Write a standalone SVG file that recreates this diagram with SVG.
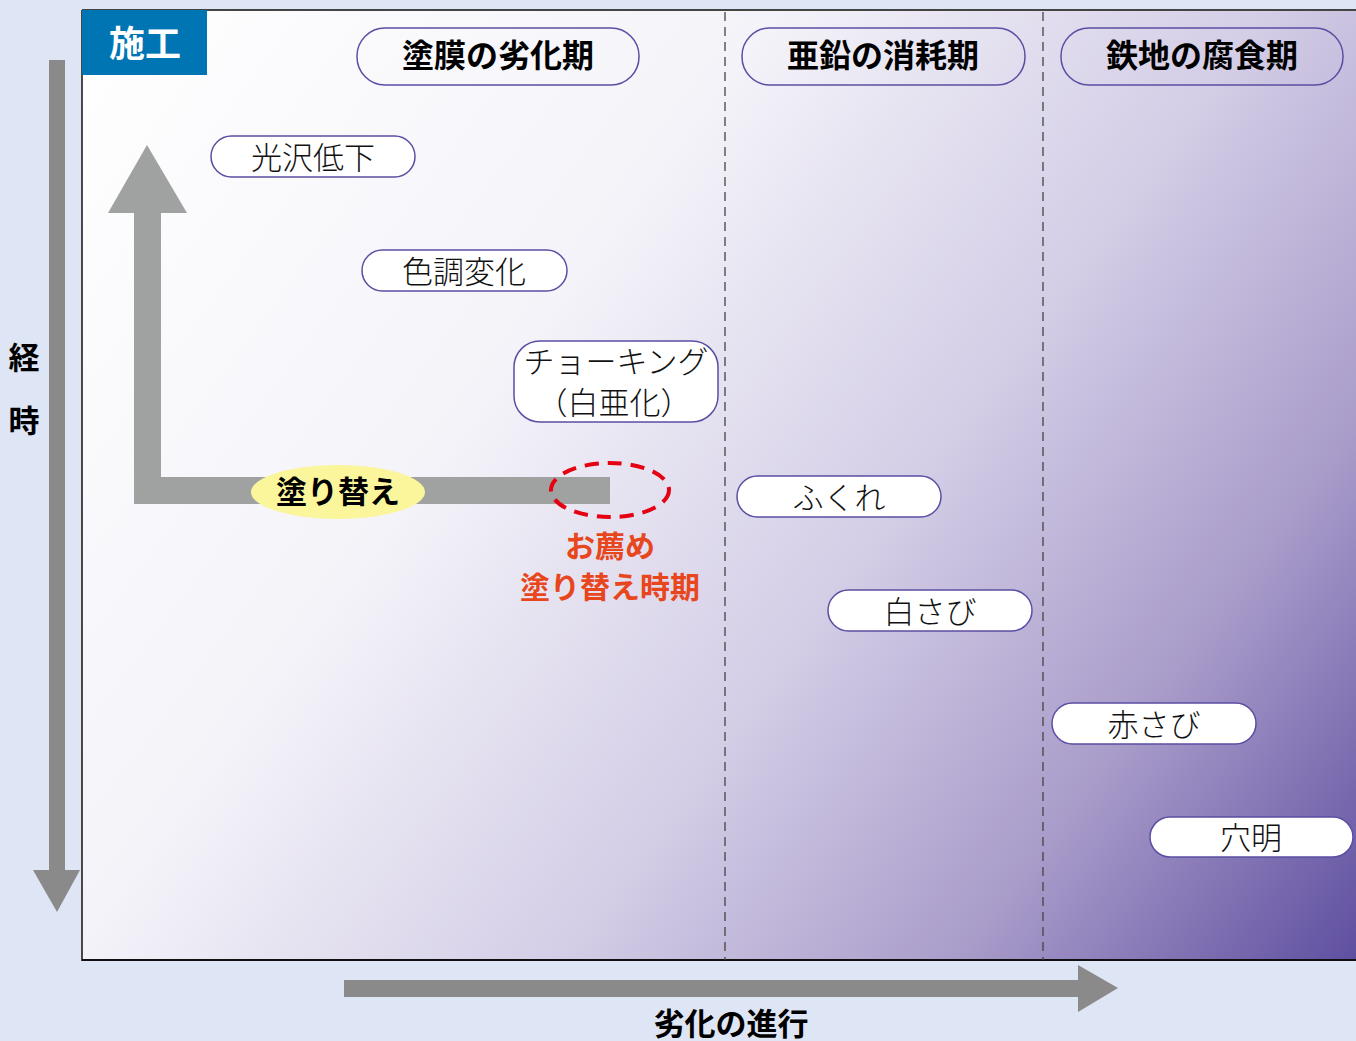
<svg xmlns="http://www.w3.org/2000/svg" width="1356" height="1041" viewBox="0 0 1356 1041">
<defs>
<linearGradient id="bg" x1="82" y1="10" x2="1356" y2="960" gradientUnits="userSpaceOnUse">
<stop offset="0" stop-color="#ffffff"/>
<stop offset="0.35" stop-color="#f4f3f9"/>
<stop offset="0.6" stop-color="#d3cde6"/>
<stop offset="0.8" stop-color="#a99cca"/>
<stop offset="1" stop-color="#5f4fa0"/>
</linearGradient>
<style>
.jp{font-family:"Noto Sans CJK JP","Noto Sans",sans-serif;}
.hdr{fill:none;stroke:#5b4ea3;stroke-width:1.5;}
.hdrt{font-size:32px;font-weight:700;fill:#000;text-anchor:middle;dominant-baseline:central;}
.item{fill:#fff;stroke:#5b4ea3;stroke-width:1.5;}
.itemt{font-size:31px;font-weight:300;fill:#111;text-anchor:middle;dominant-baseline:central;}
.dash{stroke:#444;stroke-width:1.3;stroke-dasharray:9,6;fill:none;}
.ax{fill:#8a8a8a;}
.lbl{font-size:31px;font-weight:700;fill:#000;text-anchor:middle;dominant-baseline:central;}
.red{font-size:30px;font-weight:700;fill:#e8461d;text-anchor:middle;dominant-baseline:central;}
</style>
</defs>
<rect width="1356" height="1041" fill="#dee5f4"/>
<g id="panel">
<rect x="82" y="10" width="1280" height="950" fill="url(#bg)"/>
<line x1="82" y1="10" x2="1356" y2="10" stroke="#444" stroke-width="2"/>
<line x1="82" y1="10" x2="82" y2="961" stroke="#111" stroke-width="1.5"/>
<line x1="82" y1="960" x2="1356" y2="960" stroke="#111" stroke-width="2"/>
<line class="dash" x1="725" y1="12" x2="725" y2="960"/>
<line class="dash" x1="1043" y1="12" x2="1043" y2="960"/>
</g>
<g id="sekou">
<rect x="82" y="10" width="125" height="65" fill="#0075b3"/>
<text class="jp" x="145" y="41" font-size="36" font-weight="700" fill="#fff" text-anchor="middle" dominant-baseline="central">施工</text>
</g>
<g id="hdr1"><rect class="hdr" x="357" y="28" width="282" height="57" rx="28"/><text class="jp hdrt" x="498" y="53">塗膜の劣化期</text></g>
<g id="hdr2"><rect class="hdr" x="742" y="28" width="283" height="57" rx="28"/><text class="jp hdrt" x="883" y="53">亜鉛の消耗期</text></g>
<g id="hdr3"><rect class="hdr" x="1061" y="28" width="282" height="57" rx="28"/><text class="jp hdrt" x="1202" y="53">鉄地の腐食期</text></g>
<g id="connectors">
<rect class="ax" x="49" y="60" width="16" height="812"/>
<polygon class="ax" points="33,870 80,870 57,912"/>
<rect class="ax" x="344" y="980" width="736" height="17"/>
<polygon class="ax" points="1078,965 1118,988 1078,1012"/>
<g fill="#a0a2a1">
<rect x="134" y="210" width="27" height="294"/>
<rect x="134" y="477" width="476" height="27"/>
<polygon points="147,145 187,213 108,213"/>
</g>
</g>
<g id="item-koutaku"><rect class="item" x="211" y="136" width="204" height="41" rx="20.5"/><text class="jp itemt" x="313" y="155">光沢低下</text></g>
<g id="item-shikichou"><rect class="item" x="362" y="250" width="205" height="41" rx="20.5"/><text class="jp itemt" x="464" y="269">色調変化</text></g>
<g id="item-choking"><rect class="item" x="514" y="341" width="204" height="81" rx="26"/><text class="jp itemt" x="616" y="359" font-size="28">チョーキング</text><text class="jp itemt" x="614" y="400" font-size="28">（白亜化）</text></g>
<g id="item-fukure"><rect class="item" x="737" y="476" width="204" height="41" rx="20.5"/><text class="jp itemt" x="839" y="495">ふくれ</text></g>
<g id="item-shirosabi"><rect class="item" x="828" y="590" width="204" height="41" rx="20.5"/><text class="jp itemt" x="930" y="609">白さび</text></g>
<g id="item-akasabi"><rect class="item" x="1052" y="703" width="204" height="41" rx="20.5"/><text class="jp itemt" x="1154" y="722">赤さび</text></g>
<g id="item-anaake"><rect class="item" x="1150" y="817" width="203" height="40" rx="20"/><text class="jp itemt" x="1251" y="835">穴明</text></g>
<g id="nurikae">
<ellipse cx="338" cy="492" rx="87" ry="27" fill="#fbf59c"/>
<text class="jp lbl" x="338" y="489" font-size="30">塗り替え</text>
</g>
<g id="osusume">
<ellipse cx="610" cy="490" rx="59" ry="27" fill="none" stroke="#e50012" stroke-width="4" stroke-dasharray="14,9"/>
<text class="jp red" x="610" y="544">お薦め</text>
<text class="jp red" x="610" y="585">塗り替え時期</text>
</g>
<g id="labels">
<text class="jp lbl" x="24" y="355">経</text>
<text class="jp lbl" x="24" y="418">時</text>
<text class="jp lbl" x="731" y="1021">劣化の進行</text>
</g>
</svg>
